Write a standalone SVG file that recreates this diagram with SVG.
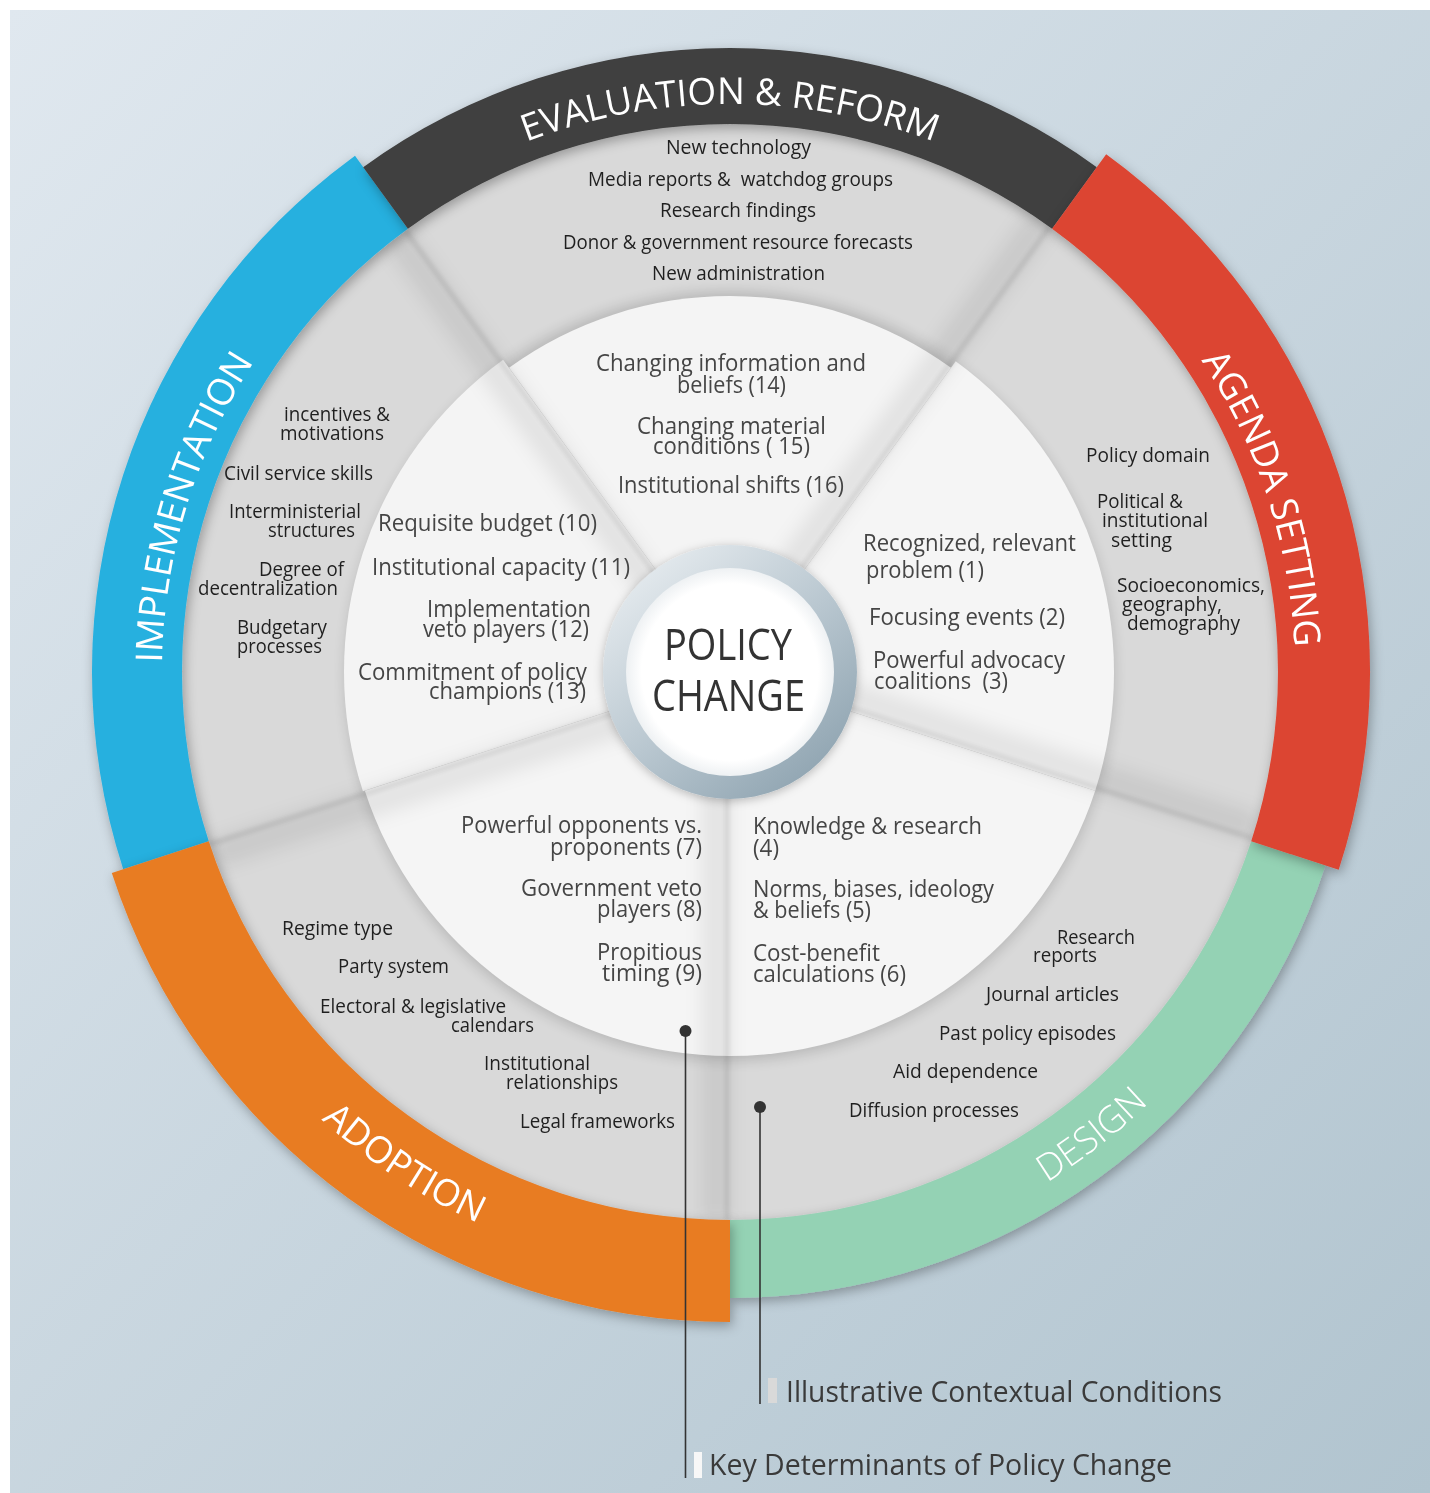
<svg xmlns="http://www.w3.org/2000/svg" width="1430" height="1493" viewBox="0 0 1430 1493">
<defs>
<style>
text{font-family:"Open Sans","Liberation Sans",sans-serif}
.o{font-size:19.5px;fill:#1f1f1f}
.i{font-size:23.5px;fill:#454545}
.t{font-size:37px;fill:#ffffff}
.lg{font-size:30px;fill:#3a3a3a}
.conn{stroke:#333;stroke-width:1.6;fill:none}
.dot{fill:#333}
</style>
<linearGradient id="bg" x1="0" y1="0" x2="1" y2="1">
<stop offset="0" stop-color="#e0e8ef"/>
<stop offset="1" stop-color="#b1c4cf"/>
</linearGradient>
<linearGradient id="ringG" x1="0.15" y1="0.1" x2="0.85" y2="0.95">
<stop offset="0" stop-color="#e3e9ed"/>
<stop offset="0.5" stop-color="#b9c7d0"/>
<stop offset="1" stop-color="#8ea3b0"/>
</linearGradient>
<radialGradient id="coreG" cx="0.5" cy="0.5" r="0.5">
<stop offset="0.85" stop-color="#ffffff"/>
<stop offset="1" stop-color="#eef1f3"/>
</radialGradient>
<filter id="drop" x="-20%" y="-20%" width="140%" height="140%">
<feDropShadow dx="2" dy="4" stdDeviation="6" flood-color="#000" flood-opacity="0.3"/>
</filter>
<filter id="dropC" x="-20%" y="-20%" width="140%" height="140%">
<feDropShadow dx="0" dy="2" stdDeviation="5" flood-color="#000" flood-opacity="0.25"/>
</filter>
<filter id="blurW" filterUnits="userSpaceOnUse" x="0" y="0" width="1430" height="1493">
<feGaussianBlur stdDeviation="9"/>
</filter>
<filter id="blurN" filterUnits="userSpaceOnUse" x="0" y="0" width="1430" height="1493">
<feGaussianBlur stdDeviation="2"/>
</filter>
<filter id="blurR" filterUnits="userSpaceOnUse" x="0" y="0" width="1430" height="1493">
<feGaussianBlur stdDeviation="7"/>
</filter>
<clipPath id="disk"><circle cx="730" cy="672" r="548"/></clipPath>
<path id="pEval" d="M238.1,388 A568,568 0 0 1 1221.9,388"/>
<path id="pAgenda" d="M941.7,148.1 A565,565 0 0 1 1209.1,971.4"/>
<path id="pImpl" d="M253.6,981.3 A568,568 0 0 1 508.1,149.2"/>
<path id="pAdopt" d="M127.9,740.6 A606,606 0 0 0 902.1,1253"/>
<path id="pDesign" d="M605,1259.8 A601,601 0 0 0 1330.6,693"/>
</defs>

<rect x="0" y="0" width="1430" height="1493" fill="#ffffff"/>
<rect x="10" y="10" width="1420" height="1483" fill="url(#bg)"/>

<!-- grey ring and inner white wedges -->
<g id="wheel">
<circle cx="730" cy="672" r="549" fill="#d9d9d9"/>
<circle cx="730" cy="676" r="384" fill="#000" opacity="0.16" filter="url(#blurR)"/>
<path d="M730,672 L509,367.8 A376,376 0 0 1 951,367.8 Z" fill="#f4f4f4"/>
<path d="M730,672 L955.7,361.3 A384,384 0 0 1 1095.2,790.7 Z" fill="#f5f5f5"/>
<path d="M730,672 L1095.2,790.7 A384,384 0 0 1 730,1056 Z" fill="#f5f5f5"/>
<path d="M730,672 L730,1056 A384,384 0 0 1 364.8,790.7 Z" fill="#f5f5f5"/>
<path d="M730,672 L362.9,791.3 A386,386 0 0 1 503.1,359.7 Z" fill="#f4f4f4"/>
<g clip-path="url(#disk)">
<g filter="url(#blurW)" stroke="#000" stroke-opacity="0.07" stroke-width="28">
<line x1="730" y1="672" x2="407.9" y2="228.7" transform="translate(-11.3,8.2)"/>
<line x1="730" y1="672" x2="1052.1" y2="228.7" transform="translate(-11.3,-8.2)"/>
<line x1="730" y1="672" x2="1251.2" y2="841.3" transform="translate(4.3,-13.3)"/>
<line x1="730" y1="672" x2="730" y2="1220" transform="translate(-14,0)"/>
<line x1="730" y1="672" x2="208.8" y2="841.3" transform="translate(4.3,13.3)"/>
</g>
<g filter="url(#blurN)" stroke="#000" stroke-opacity="0.09" stroke-width="5">
<line x1="730" y1="672" x2="407.9" y2="228.7" transform="translate(-2.4,1.8)"/>
<line x1="730" y1="672" x2="1052.1" y2="228.7" transform="translate(-2.4,-1.8)"/>
<line x1="730" y1="672" x2="1251.2" y2="841.3" transform="translate(0.9,-2.9)"/>
<line x1="730" y1="672" x2="730" y2="1220" transform="translate(-3,0)"/>
<line x1="730" y1="672" x2="208.8" y2="841.3" transform="translate(0.9,2.9)"/>
</g>
</g>
</g>

<!-- coloured stage arcs -->
<g id="arc-design" filter="url(#drop)">
<path d="M1325.4,865.4 A626,626 0 0 1 730,1298 L730,1220 A548,548 0 0 0 1251.2,841.3 Z" fill="#94d2b4"/>
<text class="t" style="font-weight:300"><textPath href="#pDesign" startOffset="50%" text-anchor="middle">DESIGN</textPath></text>
</g>
<g id="arc-implementation" filter="url(#drop)">
<path d="M123.2,869.2 A638,638 0 0 1 355,155.8 L407.9,228.7 A548,548 0 0 0 208.8,841.3 Z" fill="#28b0df"/>
<text class="t"><textPath href="#pImpl" startOffset="50%" text-anchor="middle">IMPLEMENTATION</textPath></text>
</g>
<g id="arc-adoption" filter="url(#drop)">
<path d="M730,1322 A650,650 0 0 1 111.8,872.9 L208.8,841.3 A548,548 0 0 0 730,1220 Z" fill="#e87b22"/>
<text class="t"><textPath href="#pAdopt" startOffset="50%" text-anchor="middle">ADOPTION</textPath></text>
</g>
<g id="arc-evaluation" filter="url(#drop)">
<path d="M363.2,167.2 A624,624 0 0 1 1096.8,167.2 L1052.1,228.7 A548,548 0 0 0 407.9,228.7 Z" fill="#3f3f3f"/>
<text class="t"><textPath href="#pEval" startOffset="50%" text-anchor="middle">EVALUATION &amp; REFORM</textPath></text>
</g>
<g id="arc-agenda" filter="url(#drop)">
<path d="M1106.2,154.2 A640,640 0 0 1 1338.7,869.8 L1251.2,841.3 A548,548 0 0 0 1052.1,228.7 Z" fill="#dc4430"/>
<text class="t"><textPath href="#pAgenda" startOffset="50%" text-anchor="middle">AGENDA SETTING</textPath></text>
</g>

<!-- centre node -->
<g id="node-policy-change">
<circle cx="730" cy="672" r="127" fill="url(#ringG)" filter="url(#dropC)"/>
<circle cx="730" cy="672" r="104" fill="url(#coreG)"/>
<text x="664" y="660" font-size="44" fill="#333" textLength="128" lengthAdjust="spacingAndGlyphs">POLICY</text>
<text x="652" y="711" font-size="44" fill="#333" textLength="153" lengthAdjust="spacingAndGlyphs">CHANGE</text>
</g>

<!-- Evaluation & Reform texts -->
<g id="node-evaluation">
<text class="o" x="666" y="154" textLength="145" lengthAdjust="spacingAndGlyphs">New technology</text>
<text class="o" x="588" y="186" textLength="305" lengthAdjust="spacingAndGlyphs">Media reports &amp;&#160; watchdog groups</text>
<text class="o" x="660" y="217" textLength="156" lengthAdjust="spacingAndGlyphs">Research findings</text>
<text class="o" x="563" y="249" textLength="350" lengthAdjust="spacingAndGlyphs">Donor &amp; government resource forecasts</text>
<text class="o" x="652" y="280" textLength="173" lengthAdjust="spacingAndGlyphs">New administration</text>
<text class="i" x="596" y="371" textLength="270" lengthAdjust="spacingAndGlyphs">Changing information and</text>
<text class="i" x="677" y="393" textLength="109" lengthAdjust="spacingAndGlyphs">beliefs (14)</text>
<text class="i" x="637" y="434" textLength="189" lengthAdjust="spacingAndGlyphs">Changing material</text>
<text class="i" x="653" y="454" textLength="157" lengthAdjust="spacingAndGlyphs">conditions ( 15)</text>
<text class="i" x="618" y="493" textLength="226" lengthAdjust="spacingAndGlyphs">Institutional shifts (16)</text>
</g>

<!-- Implementation texts -->
<g id="node-implementation">
<text class="o" x="284" y="421" textLength="106" lengthAdjust="spacingAndGlyphs">incentives &amp;</text>
<text class="o" x="280" y="440" textLength="104" lengthAdjust="spacingAndGlyphs">motivations</text>
<text class="o" x="224" y="480" textLength="149" lengthAdjust="spacingAndGlyphs">Civil service skills</text>
<text class="o" x="229" y="518" textLength="132" lengthAdjust="spacingAndGlyphs">Interministerial</text>
<text class="o" x="268" y="537" textLength="87" lengthAdjust="spacingAndGlyphs">structures</text>
<text class="o" x="259" y="576" textLength="85" lengthAdjust="spacingAndGlyphs">Degree of</text>
<text class="o" x="198" y="595" textLength="140" lengthAdjust="spacingAndGlyphs">decentralization</text>
<text class="o" x="237" y="634" textLength="90" lengthAdjust="spacingAndGlyphs">Budgetary</text>
<text class="o" x="237" y="653" textLength="85" lengthAdjust="spacingAndGlyphs">processes</text>
<text class="i" x="378" y="531" textLength="219" lengthAdjust="spacingAndGlyphs">Requisite budget (10)</text>
<text class="i" x="372" y="575" textLength="258" lengthAdjust="spacingAndGlyphs">Institutional capacity (11)</text>
<text class="i" x="427" y="617" textLength="164" lengthAdjust="spacingAndGlyphs">Implementation</text>
<text class="i" x="423" y="637" textLength="166" lengthAdjust="spacingAndGlyphs">veto players (12)</text>
<text class="i" x="358" y="680" textLength="229" lengthAdjust="spacingAndGlyphs">Commitment of policy</text>
<text class="i" x="429" y="699" textLength="157" lengthAdjust="spacingAndGlyphs">champions (13)</text>
</g>

<!-- Agenda setting texts -->
<g id="node-agenda">
<text class="o" x="1086" y="462" textLength="124" lengthAdjust="spacingAndGlyphs">Policy domain</text>
<text class="o" x="1097" y="508" textLength="86" lengthAdjust="spacingAndGlyphs">Political &amp;</text>
<text class="o" x="1102" y="527" textLength="106" lengthAdjust="spacingAndGlyphs">institutional</text>
<text class="o" x="1111" y="547" textLength="61" lengthAdjust="spacingAndGlyphs">setting</text>
<text class="o" x="1117" y="592" textLength="148" lengthAdjust="spacingAndGlyphs">Socioeconomics,</text>
<text class="o" x="1122" y="611" textLength="100" lengthAdjust="spacingAndGlyphs">geography,</text>
<text class="o" x="1127" y="630" textLength="113" lengthAdjust="spacingAndGlyphs">demography</text>
<text class="i" x="863" y="551" textLength="213" lengthAdjust="spacingAndGlyphs">Recognized, relevant</text>
<text class="i" x="866" y="578" textLength="118" lengthAdjust="spacingAndGlyphs">problem (1)</text>
<text class="i" x="869" y="625" textLength="196" lengthAdjust="spacingAndGlyphs">Focusing events (2)</text>
<text class="i" x="873" y="668" textLength="192" lengthAdjust="spacingAndGlyphs">Powerful advocacy</text>
<text class="i" x="874" y="689" textLength="134" lengthAdjust="spacingAndGlyphs">coalitions&#160; (3)</text>
</g>

<!-- Design texts -->
<g id="node-design">
<text class="o" x="1057" y="944" textLength="78" lengthAdjust="spacingAndGlyphs">Research</text>
<text class="o" x="1033" y="962" textLength="64" lengthAdjust="spacingAndGlyphs">reports</text>
<text class="o" x="986" y="1001" textLength="133" lengthAdjust="spacingAndGlyphs">Journal articles</text>
<text class="o" x="939" y="1040" textLength="177" lengthAdjust="spacingAndGlyphs">Past policy episodes</text>
<text class="o" x="893" y="1078" textLength="145" lengthAdjust="spacingAndGlyphs">Aid dependence</text>
<text class="o" x="849" y="1117" textLength="170" lengthAdjust="spacingAndGlyphs">Diffusion processes</text>
<text class="i" x="753" y="834" textLength="229" lengthAdjust="spacingAndGlyphs">Knowledge &amp; research</text>
<text class="i" x="753" y="856" textLength="26" lengthAdjust="spacingAndGlyphs">(4)</text>
<text class="i" x="753" y="897" textLength="241" lengthAdjust="spacingAndGlyphs">Norms, biases, ideology</text>
<text class="i" x="753" y="918" textLength="118" lengthAdjust="spacingAndGlyphs">&amp; beliefs (5)</text>
<text class="i" x="753" y="961" textLength="127" lengthAdjust="spacingAndGlyphs">Cost-benefit</text>
<text class="i" x="753" y="982" textLength="153" lengthAdjust="spacingAndGlyphs">calculations (6)</text>
</g>

<!-- Adoption texts -->
<g id="node-adoption">
<text class="o" x="282" y="935" textLength="111" lengthAdjust="spacingAndGlyphs">Regime type</text>
<text class="o" x="338" y="973" textLength="111" lengthAdjust="spacingAndGlyphs">Party system</text>
<text class="o" x="320" y="1013" textLength="186" lengthAdjust="spacingAndGlyphs">Electoral &amp; legislative</text>
<text class="o" x="451" y="1032" textLength="83" lengthAdjust="spacingAndGlyphs">calendars</text>
<text class="o" x="484" y="1070" textLength="106" lengthAdjust="spacingAndGlyphs">Institutional</text>
<text class="o" x="506" y="1089" textLength="112" lengthAdjust="spacingAndGlyphs">relationships</text>
<text class="o" x="520" y="1128" textLength="155" lengthAdjust="spacingAndGlyphs">Legal frameworks</text>
<text class="i" x="461" y="833" textLength="241" lengthAdjust="spacingAndGlyphs">Powerful opponents vs.</text>
<text class="i" x="550" y="855" textLength="152" lengthAdjust="spacingAndGlyphs">proponents (7)</text>
<text class="i" x="521" y="896" textLength="181" lengthAdjust="spacingAndGlyphs">Government veto</text>
<text class="i" x="597" y="917" textLength="105" lengthAdjust="spacingAndGlyphs">players (8)</text>
<text class="i" x="597" y="960" textLength="105" lengthAdjust="spacingAndGlyphs">Propitious</text>
<text class="i" x="602" y="981" textLength="100" lengthAdjust="spacingAndGlyphs">timing (9)</text>
</g>

<!-- legend connectors -->
<g id="connectors">
<line class="conn" x1="685.5" y1="1031" x2="685.5" y2="1478"/>
<circle class="dot" cx="685.5" cy="1031" r="6"/>
<line class="conn" x1="760" y1="1107" x2="760" y2="1404"/>
<circle class="dot" cx="760" cy="1107" r="6"/>
</g>

<g id="legend-contextual">
<rect x="768" y="1378" width="9" height="25" fill="#d9d9d9"/>
<text class="lg" x="786" y="1402" textLength="436" lengthAdjust="spacingAndGlyphs">Illustrative Contextual Conditions</text>
</g>
<g id="legend-determinants">
<rect x="694" y="1452" width="8" height="26" fill="#f7f7f7"/>
<text class="lg" x="709" y="1475" textLength="463" lengthAdjust="spacingAndGlyphs">Key Determinants of Policy Change</text>
</g>
</svg>
